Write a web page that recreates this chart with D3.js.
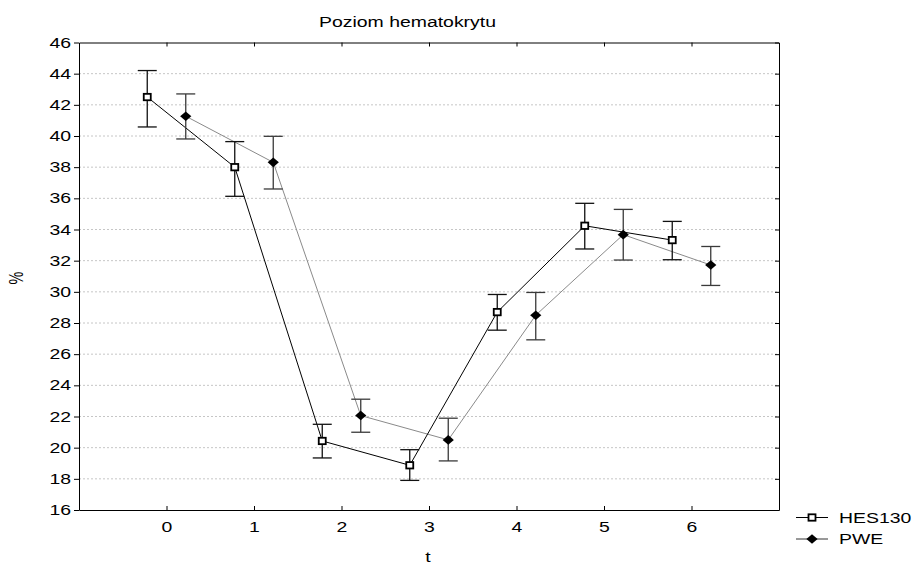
<!DOCTYPE html>
<html>
<head>
<meta charset="utf-8">
<script src="https://cdn.jsdelivr.net/npm/d3@7"></script>
<style>
  body { margin: 0; background: #fff; }
  svg { display: block; font-family: "Liberation Sans", Arial, sans-serif; }
  .axis path, .axis line { stroke: #000; }
  .axis text { font-size: 14.5px; fill: #000; }
</style>
</head>
<body>
<svg id="chart"></svg>
<script>
// data
const tValues = [0, 1, 2, 3, 4, 5, 6];
const hesMean = [42.5, 38.0, 20.43, 18.87, 28.7, 34.24, 33.32];
const hesLow  = [40.58, 36.13, 19.34, 17.9, 27.54, 32.75, 32.06];
const hesHigh = [44.2, 39.64, 21.5, 19.87, 29.83, 35.68, 34.52];
const pweMean = [41.27, 38.31, 22.06, 20.5, 28.5, 33.67, 31.72];
const pweLow  = [39.81, 36.6, 20.99, 19.15, 26.92, 32.04, 30.41];
const pweHigh = [42.7, 39.98, 23.11, 21.89, 29.96, 35.29, 32.91];
const yTicks = [16, 18, 20, 22, 24, 26, 28, 30, 32, 34, 36, 38, 40, 42, 44, 46];
const seriesNames = ["HES130", "PWE"];

const W = 913, H = 565;
const margin = {top: 42.5, right: 134, bottom: 55, left: 79};
const width = W - margin.left - margin.right;
const height = H - margin.top - margin.bottom;
const sx = 1.34; // text in the picture is stretched sideways

const svg = d3.select("svg#chart")
    .attr("width", W)
    .attr("height", H);

const g = svg.append("g")
    .attr("transform", "translate(" + margin.left + "," + margin.top + ")");

const xScale = d3.scaleLinear().domain([-1, 7]).range([0, width]);
const yScale = d3.scaleLinear().domain([16, 46]).range([height, 0]);

// dotted grid
g.selectAll("line.grid")
    .data(yTicks.filter(d => d > 16 && d < 46))
    .enter().append("line")
    .attr("class", "grid")
    .attr("x1", 0).attr("x2", width)
    .attr("y1", d => yScale(d)).attr("y2", d => yScale(d))
    .attr("stroke", "#c6c6c6")
    .attr("stroke-dasharray", "2,2");

// axes
const yAxis = g.append("g").attr("class", "axis")
    .call(d3.axisLeft(yScale).tickValues(yTicks).tickSize(5).tickSizeOuter(0));
yAxis.selectAll("text")
    .attr("x", -8 / sx)
    .attr("transform", "scale(" + sx + ",1)");

g.append("g").attr("class", "axis")
    .attr("transform", "translate(" + width + ",0)")
    .call(d3.axisLeft(yScale).tickValues(yTicks).tickSize(4).tickSizeOuter(0).tickFormat(""))
    .selectAll(".tick line").attr("x2", -4);

const xAxis = g.append("g").attr("class", "axis")
    .attr("transform", "translate(0," + height + ")")
    .call(d3.axisBottom(xScale).tickValues(tValues).tickSize(-4).tickSizeOuter(0).tickPadding(0));
xAxis.selectAll("text")
    .attr("y", 12)
    .attr("transform", "scale(" + sx + ",1)");

g.append("g").attr("class", "axis")
    .call(d3.axisTop(xScale).tickValues(tValues).tickSize(-4).tickSizeOuter(0).tickFormat(""));

// series
const offset = 0.22;
function rows(mean, low, high, dx) {
    return tValues.map((t, i) => ({x: t + dx, v: mean[i], lo: low[i], hi: high[i]}));
}
const hes = rows(hesMean, hesLow, hesHigh, -offset);
const pwe = rows(pweMean, pweLow, pweHigh, offset);

const line = d3.line().x(d => xScale(d.x)).y(d => yScale(d.v));

g.append("path").datum(pwe)
    .attr("d", line).attr("fill", "none").attr("stroke", "#8a8a8a").attr("stroke-width", 1);
g.append("path").datum(hes)
    .attr("d", line).attr("fill", "none").attr("stroke", "#000").attr("stroke-width", 1);

function errorBars(data, color) {
    const eb = g.append("g").attr("stroke", color).attr("stroke-width", 1.3);
    const cap = 9.5;
    eb.selectAll("line.v").data(data).enter().append("line")
        .attr("x1", d => xScale(d.x)).attr("x2", d => xScale(d.x))
        .attr("y1", d => yScale(d.lo)).attr("y2", d => yScale(d.hi));
    eb.selectAll("line.lo").data(data).enter().append("line")
        .attr("x1", d => xScale(d.x) - cap).attr("x2", d => xScale(d.x) + cap)
        .attr("y1", d => yScale(d.lo)).attr("y2", d => yScale(d.lo));
    eb.selectAll("line.hi").data(data).enter().append("line")
        .attr("x1", d => xScale(d.x) - cap).attr("x2", d => xScale(d.x) + cap)
        .attr("y1", d => yScale(d.hi)).attr("y2", d => yScale(d.hi));
}
errorBars(hes, "#111");
errorBars(pwe, "#3a3a3a");

function square(sel) {
    sel.append("rect")
        .attr("x", -3.5).attr("y", -3.2).attr("width", 7).attr("height", 6.4)
        .attr("fill", "#fff").attr("stroke", "#000").attr("stroke-width", 1.8);
}
function diamond(sel) {
    sel.append("path")
        .attr("d", "M0,-4.8L5.6,0L0,4.8L-5.6,0Z")
        .attr("fill", "#000");
}

g.selectAll("g.hes").data(hes).enter().append("g")
    .attr("transform", d => "translate(" + xScale(d.x) + "," + yScale(d.v) + ")")
    .call(square);
g.selectAll("g.pwe").data(pwe).enter().append("g")
    .attr("transform", d => "translate(" + xScale(d.x) + "," + yScale(d.v) + ")")
    .call(diamond);

// texts
function stretchedText(x, y, str, anchor, size) {
    return svg.append("text")
        .attr("transform", "translate(" + x + "," + y + ") scale(" + sx + ",1)")
        .attr("text-anchor", anchor)
        .attr("font-size", size + "px")
        .text(str);
}
stretchedText(407.5, 27, "Poziom hematokrytu", "middle", 14.5);
stretchedText(428, 562, "t", "middle", 14.5);
svg.append("text")
    .attr("transform", "translate(23,278) rotate(-90) scale(1," + sx + ")")
    .attr("text-anchor", "middle")
    .attr("font-size", "14.5px")
    .text("%");

// legend
const legend = svg.append("g");
const legendRows = [
    {name: seriesNames[0], y: 517.5, draw: square, color: "#000"},
    {name: seriesNames[1], y: 539, draw: diamond, color: "#333"},
];
legendRows.forEach(r => {
    legend.append("line")
        .attr("x1", 796).attr("x2", 828).attr("y1", r.y).attr("y2", r.y)
        .attr("stroke", r.color);
    legend.append("g").attr("transform", "translate(812," + r.y + ")").call(r.draw);
    legend.append("text")
        .attr("transform", "translate(839," + (r.y + 5) + ") scale(" + sx + ",1)")
        .attr("font-size", "14.5px")
        .text(r.name);
});
</script>
</body>
</html>
